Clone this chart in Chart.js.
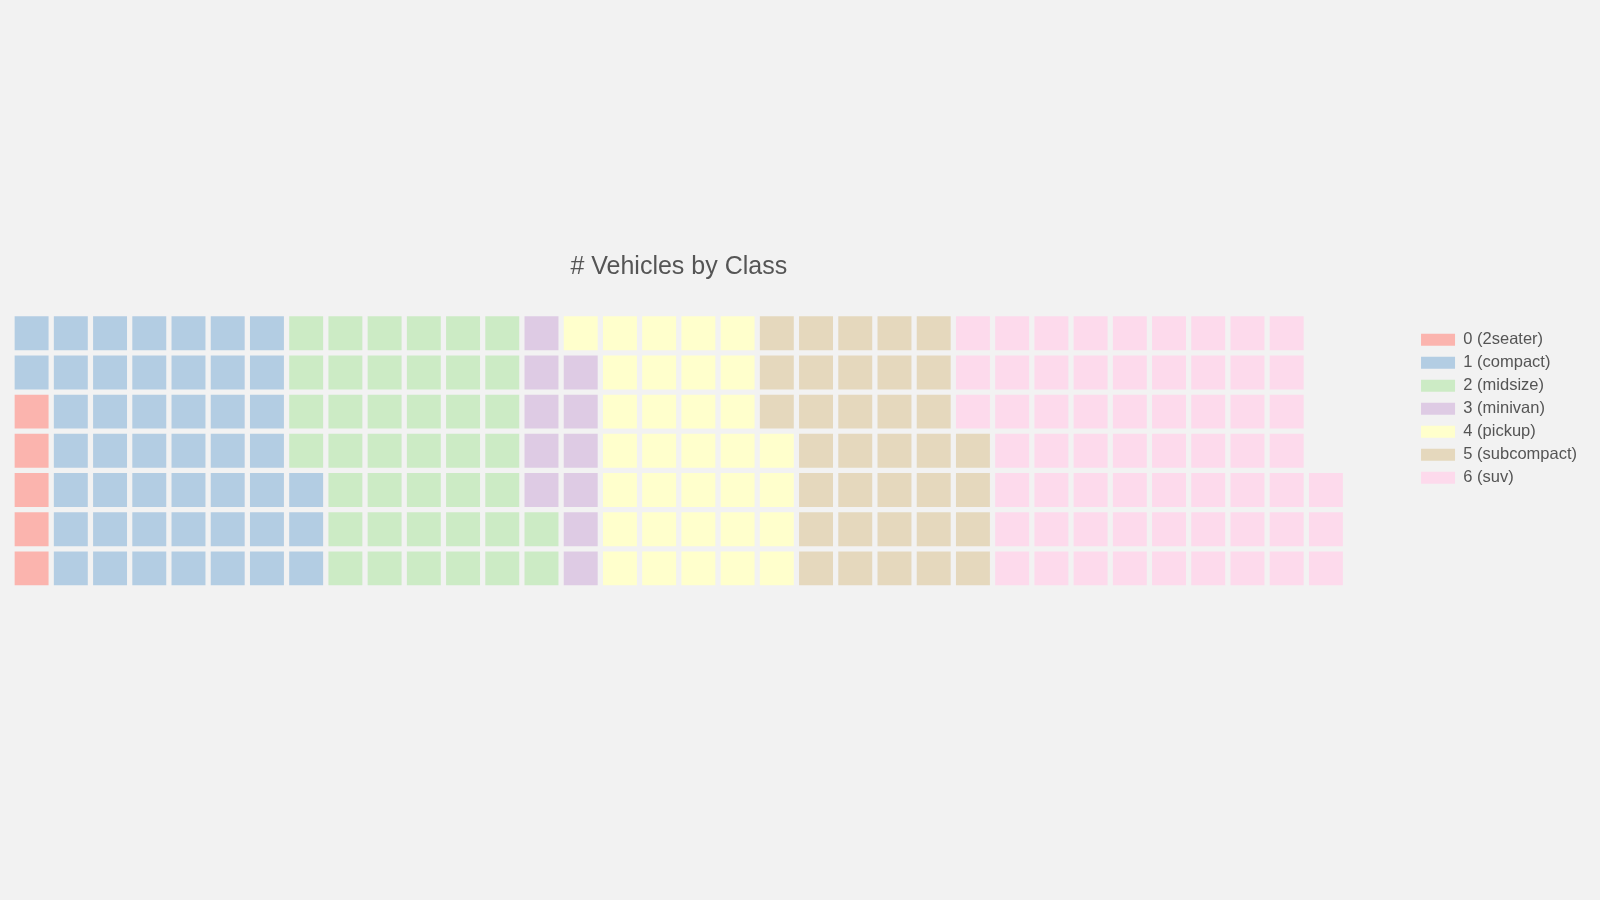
<!DOCTYPE html>
<html>
<head>
<meta charset="utf-8">
<title># Vehicles by Class</title>
<script src="https://cdn.jsdelivr.net/npm/chart.js@4/dist/chart.umd.min.js"></script>
<style>
    html, body { margin: 0; padding: 0; background: #f2f2f2; }
    #wrap { width: 1600px; height: 900px; }
</style>
</head>
<body>
<div id="wrap"><canvas id="waffle-chart" width="1600" height="900"></canvas></div>
<script>
const classNames = ['0 (2seater)', '1 (compact)', '2 (midsize)', '3 (minivan)', '4 (pickup)', '5 (subcompact)', '6 (suv)'];
const classCounts = [5, 47, 41, 11, 33, 35, 62];
const classColors = ['#fbb4ae', '#b3cde3', '#ccebc5', '#decbe4', '#ffffcc', '#e5d8bd', '#fddaec'];
const rowCount = 7;
const columnCount = 34;

// waffle cells fill column by column, starting bottom-left and going up
function buildCells() {
    const datasets = [];
    let index = 0;

    classCounts.forEach((count, i) => {
        const points = [];
        for (let k = 0; k < count; k++) {
            points.push({ x: Math.floor(index / rowCount), y: index % rowCount });
            index++;
        }
        datasets.push({
            label: classNames[i],
            data: points,
            yAxisID: 'y',
            backgroundColor: classColors[i],
            borderWidth: 0,
            pointStyle: 'rect',
            pointRadius: 24,
            pointHoverRadius: 24,
            clip: false
        });
    });

    return datasets;
}

function renderChart() {
    const ctx = document.getElementById('waffle-chart').getContext('2d');

    new Chart(ctx, {
        type: 'scatter',
        data: { datasets: buildCells() },
        options: {
            responsive: false,
            animation: false,
            events: [],
            layout: {
                autoPadding: false,
                padding: { left: 12, right: 13, top: 242, bottom: 312 }
            },
            scales: {
                x: { display: false, min: -0.5, max: columnCount - 0.5 },
                y: { display: false, min: -0.5, max: 6.21 },
                // empty spacer between the plot and the legend
                gap: {
                    type: 'linear',
                    axis: 'y',
                    position: 'right',
                    grid: { display: false },
                    border: { display: false },
                    ticks: { display: false },
                    afterFit: (scale) => { scale.width = 69; }
                }
            },
            plugins: {
                title: {
                    display: true,
                    fullSize: false,
                    text: '# Vehicles by Class',
                    color: '#555555',
                    font: { family: 'Liberation Sans', size: 25, weight: 'normal' },
                    padding: { top: 10, bottom: 43 }
                },
                legend: {
                    position: 'right',
                    align: 'start',
                    fullSize: false,
                    labels: {
                        color: '#555555',
                        font: { family: 'Liberation Sans', size: 16.5 },
                        boxWidth: 34,
                        boxHeight: 12,
                        padding: 6.5
                    }
                },
                tooltip: { enabled: false }
            }
        }
    });
}

document.addEventListener('DOMContentLoaded', renderChart);
</script>
</body>
</html>
